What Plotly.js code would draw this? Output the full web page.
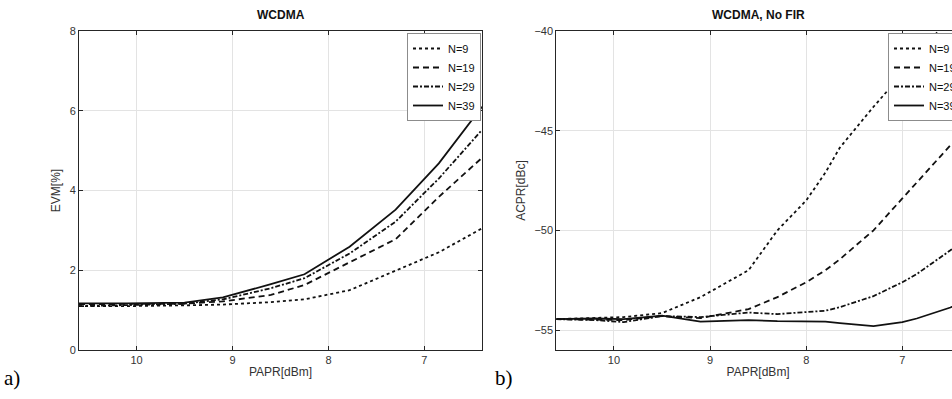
<!DOCTYPE html>
<html>
<head>
<meta charset="utf-8">
<script src="https://cdn.plot.ly/plotly-3.0.1.min.js"></script>
<style>
html,body{margin:0;padding:0;overflow:hidden;background:#fff;width:952px;height:399px;}
#chart{width:1000px;height:399px;}
</style>
</head>
<body>
<div id="chart"></div>
<script>
// ---------- data ----------
const seriesNames = ["N=9", "N=19", "N=29", "N=39"];

// a) EVM vs PAPR
const xEvm = [10.6, 10.1, 9.5, 9.1, 8.6, 8.25, 7.78, 7.3, 6.85, 6.4];
const evmN9  = [1.10, 1.10, 1.12, 1.14, 1.20, 1.27, 1.50, 2.00, 2.45, 3.05];
const evmN19 = [1.15, 1.15, 1.16, 1.22, 1.38, 1.63, 2.20, 2.78, 3.84, 4.82];
const evmN29 = [1.10, 1.12, 1.16, 1.27, 1.55, 1.80, 2.42, 3.22, 4.30, 5.52];
const evmN39 = [1.17, 1.17, 1.19, 1.32, 1.65, 1.90, 2.59, 3.52, 4.68, 6.10];

// b) ACPR vs PAPR
const xAcpr = [10.6, 10.2, 9.9, 9.5, 9.1, 8.6, 8.3, 8.0, 7.8, 7.65, 7.3, 7.0, 6.85, 6.5, 6.4];
const acprN9  = [-54.45, -54.40, -54.35, -54.15, -53.35, -52.00, -50.00, -48.50, -47.10, -45.85, -43.80, -42.15, -41.30, -39.30, -38.70];
const acprN19 = [-54.45, -54.50, -54.50, -54.30, -54.40, -53.95, -53.35, -52.60, -52.00, -51.45, -50.00, -48.40, -47.60, -45.75, -45.20];
const acprN29 = [-54.45, -54.50, -54.60, -54.30, -54.35, -54.12, -54.20, -54.10, -54.03, -53.85, -53.30, -52.60, -52.19, -51.00, -50.60];
const acprN39 = [-54.45, -54.42, -54.45, -54.28, -54.58, -54.50, -54.55, -54.58, -54.58, -54.65, -54.80, -54.60, -54.42, -53.87, -53.65];

const xTicks = [10, 9, 8, 7];

// ---------- styling ----------
// layout is wider than the 952px window: the right panel runs past the visible edge, as in the reference
const W = 1000, H = 399;
const dashes = ["dot", "6px,4px", "5px,2px,2px,2px", "solid"];
const lineColor = "#111111";
const evmSeries = [evmN9, evmN19, evmN29, evmN39];
const acprSeries = [acprN9, acprN19, acprN29, acprN39];

const traces = [];
evmSeries.forEach((ys, i) => {
  traces.push({
    x: xEvm, y: ys, type: "scatter", mode: "lines", name: seriesNames[i],
    xaxis: "x", yaxis: "y", legend: "legend",
    line: {color: lineColor, width: 1.8, dash: dashes[i]}
  });
});
acprSeries.forEach((ys, i) => {
  traces.push({
    x: xAcpr, y: ys, type: "scatter", mode: "lines", name: seriesNames[i],
    xaxis: "x2", yaxis: "y2", legend: "legend2",
    line: {color: lineColor, width: 1.8, dash: dashes[i]}
  });
});

const fam = "Liberation Sans, Arial, sans-serif";
const tickFont = {family: fam, size: 11, color: "#333333"};
const axisCommon = {
  showline: true, linecolor: "#262626", linewidth: 1, mirror: "ticks",
  ticks: "inside", ticklen: 4, tickcolor: "#262626",
  showgrid: true, gridcolor: "#e3e3e3", gridwidth: 1,
  zeroline: false, tickfont: tickFont, automargin: false
};
const yTop = 1 - 31 / H, yBot = 1 - 350 / H;

const legendCommon = {
  bgcolor: "#ffffff", bordercolor: "#8c8c8c", borderwidth: 1,
  font: {family: fam, size: 11, color: "#111"},
  yanchor: "top", itemwidth: 30, tracegroupgap: 0
};
const axTitleFont = {family: fam, size: 12, color: "#333"};

const layout = {
  width: W, height: H,
  margin: {l: 0, r: 0, t: 0, b: 0},
  paper_bgcolor: "#ffffff", plot_bgcolor: "#ffffff",
  showlegend: true,
  xaxis: Object.assign({}, axisCommon, {
    domain: [79 / W, 482 / W], range: [10.6, 6.4], tickvals: xTicks, anchor: "y",
    title: {text: "PAPR[dBm]", font: axTitleFont, standoff: 2}
  }),
  yaxis: Object.assign({}, axisCommon, {
    domain: [yBot, yTop], range: [0, 8], dtick: 2, anchor: "x",
    title: {text: "EVM[%]", font: axTitleFont, standoff: 6}
  }),
  xaxis2: Object.assign({}, axisCommon, {
    domain: [556.3 / W, 960 / W], range: [10.6, 6.4], tickvals: xTicks, anchor: "y2",
    title: {text: "PAPR[dBm]", font: axTitleFont, standoff: 2}
  }),
  yaxis2: Object.assign({}, axisCommon, {
    domain: [yBot, yTop], range: [-56, -40], tickvals: [-55, -50, -45, -40], anchor: "x2",
    title: {text: "ACPR[dBc]", font: axTitleFont, standoff: 6}
  }),
  legend: Object.assign({}, legendCommon, {x: 481 / W, xanchor: "right", y: 1 - 33 / H}),
  legend2: Object.assign({}, legendCommon, {x: 888 / W, xanchor: "left", y: 1 - 33 / H}),
  annotations: [
    {text: "<b>WCDMA</b>", xref: "paper", yref: "paper", x: 280.5 / W, y: 1 - 15 / H,
     showarrow: false, xanchor: "center", yanchor: "middle",
     font: {family: fam, size: 12, color: "#111"}},
    {text: "<b>WCDMA, No FIR</b>", xref: "paper", yref: "paper", x: 758 / W, y: 1 - 15 / H,
     showarrow: false, xanchor: "center", yanchor: "middle",
     font: {family: fam, size: 12, color: "#111"}},
    {text: "a)", xref: "paper", yref: "paper", x: 2 / W, y: 1 - 378 / H,
     showarrow: false, xanchor: "left", yanchor: "middle",
     font: {family: "Liberation Serif, Times New Roman, serif", size: 21, color: "#000"}},
    {text: "b)", xref: "paper", yref: "paper", x: 493 / W, y: 1 - 378 / H,
     showarrow: false, xanchor: "left", yanchor: "middle",
     font: {family: "Liberation Serif, Times New Roman, serif", size: 21, color: "#000"}}
  ]
};

Plotly.newPlot("chart", traces, layout, {displayModeBar: false, staticPlot: true});
</script>
</body>
</html>
